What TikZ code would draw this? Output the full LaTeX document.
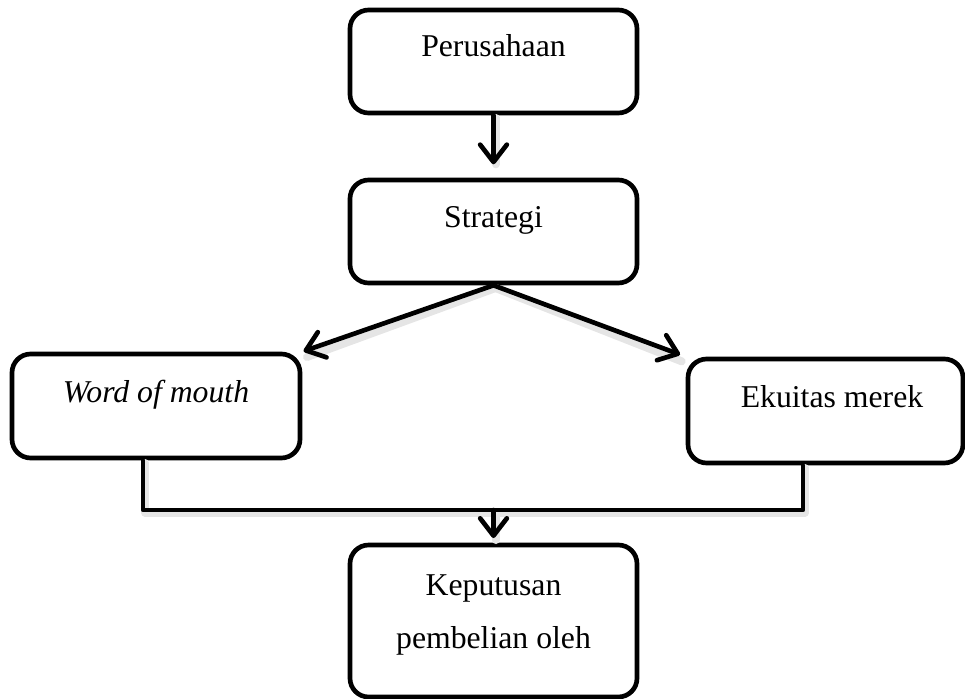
\documentclass[tikz,border=0pt]{standalone}
\usepackage{fontspec}
\setmainfont{Liberation Serif}
\usetikzlibrary{arrows.meta}
\tikzset{
  box/.style={draw=black, line width=3.5pt, rounded corners=14pt, fill=white, inner sep=0pt},
  lbl/.style={anchor=base, inner sep=0pt, font=\fontsize{23.8}{28}\selectfont},
  conn/.style={line width=3.5pt, line cap=round, line join=round},
  arr/.style={conn, -{Straight Barb[length=13pt, width=20pt, line cap=round, line join=round]}},
  shad/.style={draw=black!10, line width=6pt}
}
\begin{document}
\begin{tikzpicture}[x=0.75pt, y=-0.75pt]
\useasboundingbox (0,0) rectangle (965,699);
% boxes
\node[box, minimum width=215.25pt, minimum height=77.25pt] (p) at (493.5,61.5) {};
\node[box, minimum width=215.25pt, minimum height=77.25pt] (s) at (493.5,231.5) {};
\node[box, minimum width=216pt, minimum height=78pt] (w) at (156,406) {};
\node[box, minimum width=206.25pt, minimum height=78pt] (e) at (825.5,411) {};
\node[box, minimum width=215.25pt, minimum height=114pt] (k) at (493.5,621) {};
% texts
\node[lbl] (pt) at (493.5,57) {Perusahaan};
\node[lbl] (st) at (493.5,227) {Strategi};
\node[lbl] (wt) at (156,402) {\itshape Word of mouth};
\node[lbl] (et) at (832,407) {Ekuitas merek};
\node[lbl] (kt1) at (493.5,595) {Keputusan};
\node[lbl] (kt2) at (493.5,648) {pembelian oleh};
% junction
\coordinate (j) at (493.5,510);
\coordinate (wb) at ([xshift=-9.75pt]w.south);
\coordinate (eb) at ([xshift=-16.875pt]e.south);
% shadows
\begin{scope}[transform canvas={shift={(1.5pt,-2pt)}}]
\draw[conn, shad] (p.south) -- ([yshift=12pt]s.north);
\draw[conn, shad] (s.south) -- ([shift={(2pt,-2pt)}]w.north east);
\draw[conn, shad] (s.south) -- ([shift={(-4.5pt,-1.5pt)}]e.north west);
\draw[conn, shad] (wb) |- (j) -| (eb);
\draw[conn, shad] (j) -- ([yshift=4pt]k.north);
\end{scope}
% connectors
\draw[arr, shorten >=10pt] (p.south) -- (s.north);
\draw[arr, shorten >=1pt] (s.south) -- (w.north east);
\draw[arr, shorten >=4.5pt] (s.south) -- (e.north west);
\draw[conn] (wb) |- (j) -| (eb);
\draw[arr, shorten >=3.5pt] (j) -- (k.north);
\end{tikzpicture}
\end{document}
